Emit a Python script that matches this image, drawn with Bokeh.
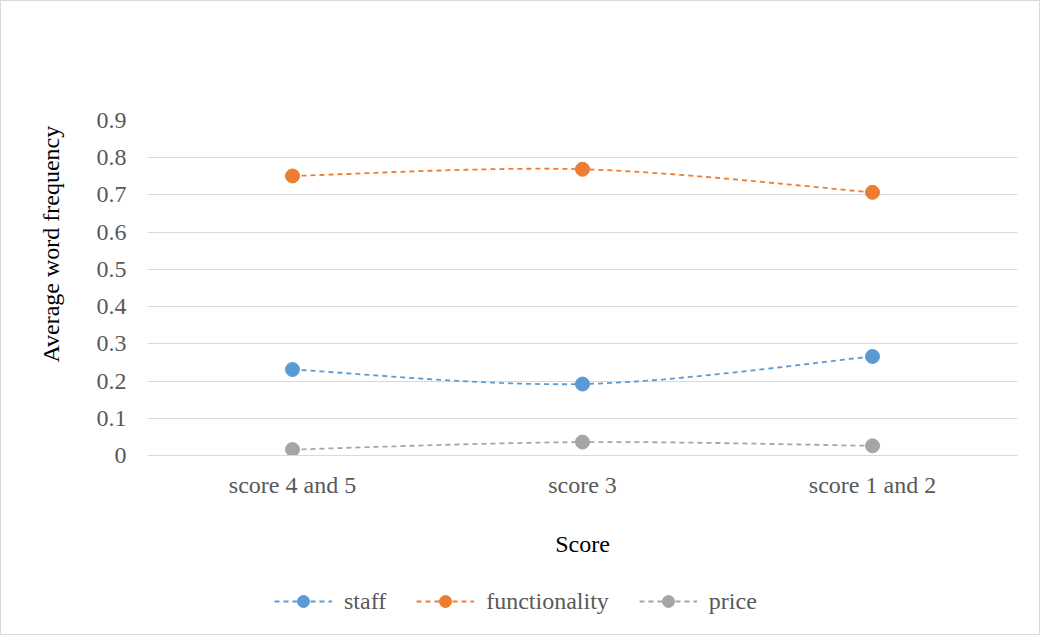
import numpy as np
from bokeh.plotting import figure
from bokeh.layouts import column
from bokeh.models import Legend, LegendItem, FixedTicker, Range1d, Title
from bokeh.embed import file_html
from bokeh.resources import INLINE

categories = ["score 4 and 5", "score 3", "score 1 and 2"]
staff = [0.231, 0.192, 0.266]
functionality = [0.751, 0.769, 0.707]
price = [0.016, 0.036, 0.026]
y_ticks = [0, 0.1, 0.2, 0.3, 0.4, 0.5, 0.6, 0.7, 0.8, 0.9]

series = [("staff", staff, "#5B9BD5"),
          ("functionality", functionality, "#ED7D31"),
          ("price", price, "#A5A5A5")]

FONT = "Liberation Serif"
TXT = "#595959"
FS = "24px"

xs = [i + 0.5 for i in range(len(categories))]

def smooth(x, y, n=40):
    pts = list(zip(x, y))
    P = [pts[0]] + pts + [pts[-1]]
    ox, oy = [], []
    for i in range(1, len(P) - 2):
        p0, p1, p2, p3 = map(np.array, (P[i - 1], P[i], P[i + 1], P[i + 2]))
        c1 = p1 + (p2 - p0) / 6.0
        c2 = p2 - (p3 - p1) / 6.0
        t = np.linspace(0, 1, n)[:, None]
        b = ((1 - t) ** 3) * p1 + 3 * ((1 - t) ** 2) * t * c1 + 3 * (1 - t) * t ** 2 * c2 + t ** 3 * p2
        if i > 1:
            b = b[1:]
        ox.extend(b[:, 0]); oy.extend(b[:, 1])
    return ox, oy

p = figure(width=1038, height=560, output_backend="svg", toolbar_location=None,
           x_range=Range1d(0, 3), y_range=Range1d(0, 0.9),
           min_border_left=146, min_border_right=22, min_border_top=119, min_border_bottom=106)
p.outline_line_color = None
p.background_fill_color = "white"
p.border_fill_color = "white"

# legend strip below the chart (its own renderers lie outside its visible range)
lf = figure(width=1038, height=73, output_backend="svg", toolbar_location=None,
            x_range=Range1d(0, 3), y_range=Range1d(10, 11),
            x_axis_location=None, y_axis_location=None,
            min_border_left=0, min_border_right=0, min_border_top=0, min_border_bottom=0)
lf.outline_line_color = None
lf.xgrid.visible = False
lf.ygrid.visible = False
lf.border_fill_color = "white"
lf.background_fill_color = "white"

items = []
for name, vals, col in series:
    lx, ly = smooth(xs, vals)
    p.line(lx, ly, line_color=col, line_width=1.8, line_dash="5 4")
    p.scatter(xs, vals, size=14, fill_color=col, line_color=col, marker="circle")
    d1 = lf.line(lx, ly, line_color=col, line_width=1.8, line_dash="5 4")
    d2 = lf.scatter(xs, vals, size=14, fill_color=col, line_color=col, marker="circle")
    items.append(LegendItem(label=name, renderers=[d1, d2]))

p.xaxis.ticker = FixedTicker(ticks=xs)
p.xaxis.major_label_overrides = {x: c for x, c in zip(xs, categories)}
p.xaxis.axis_line_color = "#D9D9D9"
p.xaxis.axis_line_width = 1
p.xaxis.major_tick_line_color = None
p.xaxis.minor_tick_line_color = None
p.xaxis.major_label_text_font = FONT
p.xaxis.major_label_text_font_size = FS
p.xaxis.major_label_text_color = TXT
p.xaxis.major_label_standoff = 10
p.xaxis.axis_label = "Score"
p.xaxis.axis_label_text_font = FONT
p.xaxis.axis_label_text_font_size = FS
p.xaxis.axis_label_text_font_style = "normal"
p.xaxis.axis_label_text_color = "black"
p.xaxis.axis_label_standoff = 30

p.yaxis.ticker = FixedTicker(ticks=y_ticks)
p.yaxis.major_label_overrides = {t: ("0" if t == 0 else f"{t:.1f}") for t in y_ticks}
p.yaxis.axis_line_color = None
p.yaxis.major_tick_line_color = None
p.yaxis.minor_tick_line_color = None
p.yaxis.major_label_text_font = FONT
p.yaxis.major_label_text_font_size = FS
p.yaxis.major_label_text_color = TXT
p.yaxis.major_label_standoff = 15

ytitle = Title(text="Average word frequency", align="left", offset=93,
               text_font=FONT, text_font_size=FS, text_font_style="normal",
               text_color="black", standoff=60)
p.add_layout(ytitle, "left")

p.xgrid.grid_line_color = None
p.ygrid.grid_line_color = "#D9D9D9"
p.ygrid.grid_line_width = 1

legend = Legend(items=items, orientation="horizontal", location=(127, 18),
                glyph_width=58, glyph_height=30, label_text_font=FONT,
                label_text_font_size=FS, label_text_color=TXT,
                spacing=30, label_standoff=12, border_line_color=None,
                background_fill_alpha=0, margin=0, padding=0)
lf.add_layout(legend, "center")

layout = column(p, lf, spacing=0)
layout.styles = {"border": "1px solid #D9D9D9"}

open("out.html", "w").write(file_html(layout, INLINE))
